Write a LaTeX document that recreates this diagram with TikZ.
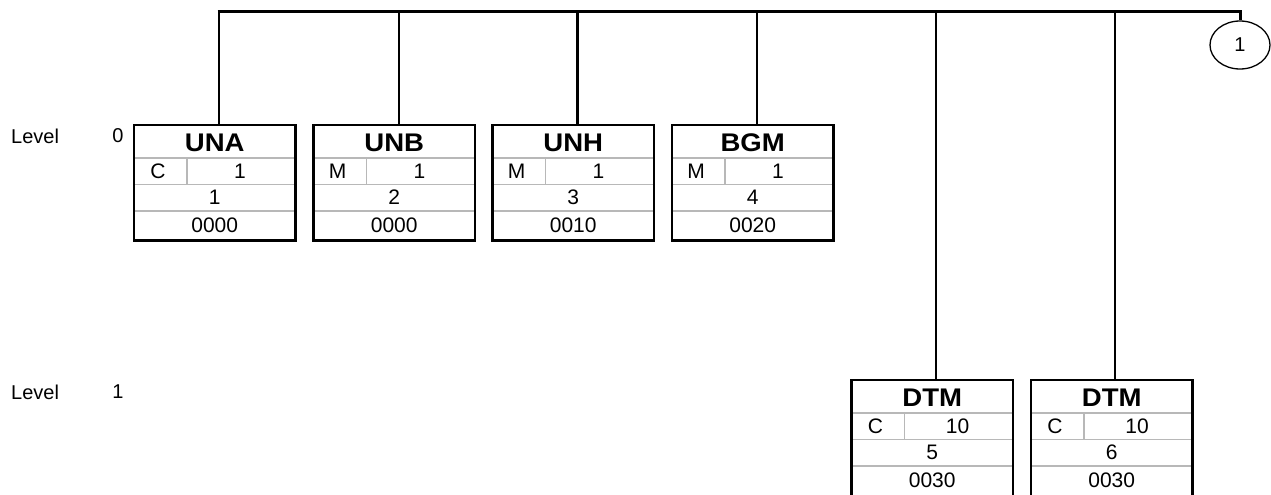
\documentclass[tikz,border=0pt]{standalone}
\usepackage{fontspec}
\setmainfont{Liberation Sans}
\newfontfamily\titlefont{Liberation Sans}[FakeStretch=1.08]
\usetikzlibrary{shapes.geometric}
\tikzset{
  bus/.style={line width=3pt, black},
  drop/.style={line width=2.6pt, black},
  boxborder/.style={line width=2.5pt, black},
  inner/.style={line width=1.5pt, black!28},
  segframe/.style={rectangle, inner sep=0pt, anchor=north west, minimum width=161pt},
  ttl/.style={font=\titlefont\fontsize{25.5}{28}\selectfont\bfseries, inner sep=0pt},
  sml/.style={font=\fontsize{21}{24}\selectfont, inner sep=0pt},
  lvl/.style={font=\fontsize{20}{23}\selectfont, inner sep=0pt},
  conn/.style={ellipse, draw, line width=1.3pt, minimum width=60pt, minimum height=48pt, inner sep=0pt, font=\fontsize{20}{23}\selectfont}
}
% #1 name, #2 left, #3 top, #4 height, #5 title, #6 status, #7 rep, #8 pos, #9 code
\newcommand\segbox[9]{%
  \node[segframe, minimum height=#4pt] (#1) at (#2,#3) {};
  \draw[inner] ([yshift=-33pt]#1.north west) -- ([yshift=-33pt]#1.north east);
  \draw[inner] ([yshift=-59.5pt]#1.north west) -- ([yshift=-59.5pt]#1.north east);
  \draw[inner] ([yshift=-86pt]#1.north west) -- ([yshift=-86pt]#1.north east);
  \draw[inner] ([xshift=53pt,yshift=-33pt]#1.north west) -- ([xshift=53pt,yshift=-59.5pt]#1.north west);
  \draw[boxborder] (#1.north west) rectangle (#1.south east);
  \node[ttl] (#1t) at ([yshift=-17.5pt]#1.north) {#5};
  \node[sml] (#1s) at ([xshift=24pt,yshift=-46.5pt]#1.north west) {#6};
  \node[sml] (#1r) at ([xshift=106pt,yshift=-46.5pt]#1.north west) {#7};
  \node[sml] (#1p) at ([yshift=-72.5pt]#1.north) {#8};
  \node[sml] (#1c) at ([yshift=-100pt]#1.north) {#9};
}
\begin{document}
\begin{tikzpicture}[x=1pt,y=-1pt]
\useasboundingbox (0,0) rectangle (1271,495);
\clip (0,0) rectangle (1271,495);
\fill[white] (0,0) rectangle (1271,495);

\node[lvl, anchor=west] (l0) at (11,136) {Level};
\node[lvl] (l0n) at (118,136) {0};
\node[lvl, anchor=west] (l1) at (11,392) {Level};
\node[lvl] (l1n) at (118,392) {1};

\segbox{una}{134}{125}{115}{UNA}{C}{1}{1}{0000}
\segbox{unb}{313.5}{125}{115}{UNB}{M}{1}{2}{0000}
\segbox{unh}{492.5}{125}{115}{UNH}{M}{1}{3}{0010}
\segbox{bgm}{672}{125}{115}{BGM}{M}{1}{4}{0020}
\segbox{dtma}{851.5}{380}{118}{DTM}{C}{10}{5}{0030}
\segbox{dtmb}{1031}{380}{118}{DTM}{C}{10}{6}{0030}

\node[conn] (c1) at (1240,45) {1};

\coordinate (t1) at (219,11.5);
\coordinate (t2) at (399,11.5);
\coordinate (t3) at (577.5,11.5);
\coordinate (t4) at (757,11.5);
\coordinate (t5) at (936,11.5);
\coordinate (t6) at (1115,11.5);
\coordinate (tc) at (c1.north |- t1);

\draw[bus] ([xshift=-1.3pt]t1) -- (tc) -- (c1.north);
\draw[drop] (t1) -- (t1 |- una.north);
\draw[drop] (t2) -- (t2 |- unb.north);
\draw[drop] (t3) -- (t3 |- unh.north);
\draw[drop] (t4) -- (t4 |- bgm.north);
\draw[drop] (t5) -- (t5 |- dtma.north);
\draw[drop] (t6) -- (t6 |- dtmb.north);
\end{tikzpicture}
\end{document}
